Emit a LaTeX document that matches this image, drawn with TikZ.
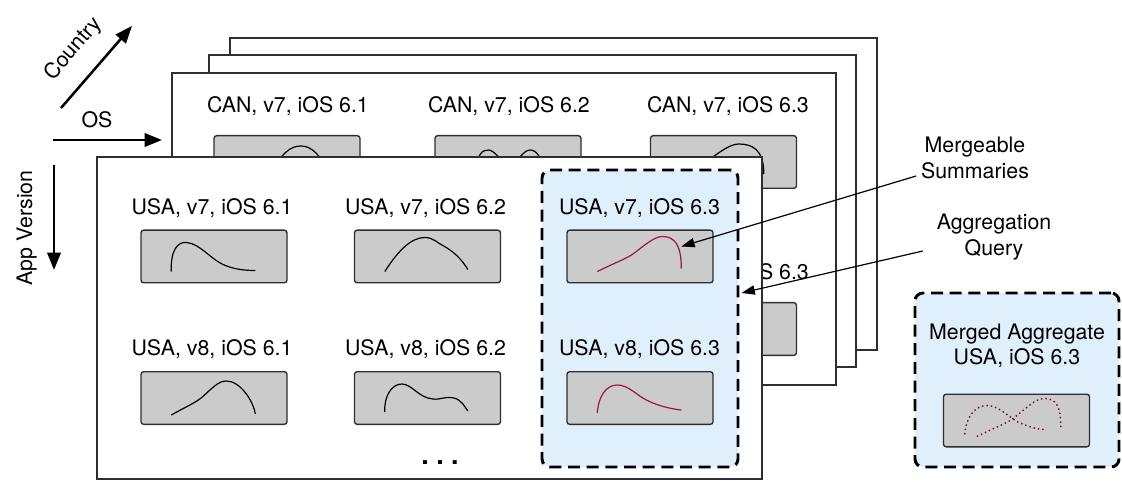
\documentclass[tikz,border=0pt]{standalone}
\usepackage{fontspec}
\setmainfont{TeX Gyre Heros}
\usetikzlibrary{arrows.meta,fit}
\definecolor{boxgray}{HTML}{CBCBCB}
\definecolor{selblue}{HTML}{DFF0FC}
\definecolor{curvered}{HTML}{A3123F}
\definecolor{edge}{HTML}{2E2E2E}
\begin{document}
\begin{tikzpicture}[x=0.75pt,y=-0.75pt,
  font=\fontsize{16}{19}\selectfont,
  layer/.style={draw=edge, line width=0.9pt, fill=white},
  sumbox/.style={draw=edge, line width=1pt, fill=boxgray, rounded corners=2pt,
    minimum width=109.5pt, minimum height=39.5pt, inner sep=0pt},
  lbl/.style={anchor=base, inner sep=0pt},
  curve/.style={line width=0.9pt, draw=black},
  redcurve/.style={line width=0.9pt, draw=curvered},
  dotcurve/.style={line width=1.1pt, draw=curvered!80!black, dash pattern=on 1.1pt off 2.2pt},
  selbox/.style={draw=black, line width=2.2pt, dash pattern=on 9pt off 5pt,
    fill=selblue, rounded corners=6pt, inner sep=0pt},
  axis/.style={line width=1.9pt, -{Triangle[length=13pt,width=10pt]}},
  callout/.style={line width=0.9pt, -{Triangle[length=10pt,width=7pt]}},
  note/.style={align=center, inner sep=2pt}
]
\useasboundingbox (0,0) rectangle (1122,481);

% ---- back layers ----
\draw[layer] (230,38) rectangle (877,350);
\draw[layer] (209,55) rectangle (856,367);
\draw[layer] (172,73) rectangle (836,385);

% ---- CAN layer contents ----
\node[lbl] (lc1) at (288,113) {CAN, v7, iOS 6.1};
\node[lbl] (lc2) at (509,113) {CAN, v7, iOS 6.2};
\node[lbl] (lc3) at (728,113) {CAN, v7, iOS 6.3};
\node[lbl] (lc6) at (728,280) {CAN, v8, iOS 6.3};
\node[sumbox] (c1) at (287,162) {};
\node[sumbox] (c2) at (508,162) {};
\node[sumbox] (c3) at (723.5,162) {};
\node[sumbox] (c6) at (723.5,329) {};
\begin{scope}[shift={(c1.north west)}]
  \draw[curve] (55,45) .. controls (68,16) and (78,11) .. (88,11) .. controls (98,11) and (108,20) .. (120,45);
\end{scope}
\begin{scope}[shift={(c2.north west)}]
  \draw[curve] (40,45) .. controls (42,18) and (48,15) .. (54,15) .. controls (61,15) and (66,28) .. (76,28)
    .. controls (84,28) and (88,15) .. (96,15) .. controls (103,15) and (108,25) .. (112,40);
\end{scope}
\begin{scope}[shift={(c3.north west)}]
  \draw[curve] (24,42) .. controls (38,35) and (51,30) .. (59,25) .. controls (71,16) and (81,9) .. (89,9)
    .. controls (103,9) and (114,15) .. (114,39);
\end{scope}

% ---- front layer ----
\draw[layer] (97,157) rectangle (762,479);
\node[selbox, fit={(542,170) (738,467)}] (sel) {};

\node[lbl] (lu1) at (212,215) {USA, v7, iOS 6.1};
\node[lbl] (lu2) at (425.5,215) {USA, v7, iOS 6.2};
\node[lbl] (lu3) at (639.5,215) {USA, v7, iOS 6.3};
\node[lbl] (lu4) at (212,355) {USA, v8, iOS 6.1};
\node[lbl] (lu5) at (425.5,355) {USA, v8, iOS 6.2};
\node[lbl] (lu6) at (639.5,355) {USA, v8, iOS 6.3};

\node[sumbox] (u1) at (214,256.5) {};
\node[sumbox] (u2) at (427.5,256.5) {};
\node[sumbox] (u3) at (640,256.5) {};
\node[sumbox] (u4) at (214,398) {};
\node[sumbox] (u5) at (427.5,398) {};
\node[sumbox] (u6) at (640,398) {};

\begin{scope}[shift={(u1.north west)}]
  \draw[curve] (31,42) .. controls (30,20) and (38,12) .. (46,13) .. controls (60,14) and (70,30) .. (85,36)
    .. controls (95,40) and (105,41) .. (115,41);
\end{scope}
\begin{scope}[shift={(u2.north west)}]
  \draw[curve] (31,42) .. controls (45,20) and (58,8) .. (71,8) .. controls (80,8) and (84,14) .. (89,16)
    .. controls (100,22) and (108,30) .. (114,40);
\end{scope}
\begin{scope}[shift={(u3.north west)}]
  \draw[redcurve] (31,42) .. controls (45,35) and (58,30) .. (66,25) .. controls (78,16) and (88,7) .. (96,7)
    .. controls (108,7) and (115,15) .. (115,39);
  \coordinate (mtip) at (115,17);
\end{scope}
\begin{scope}[shift={(u4.north west)}]
  \draw[curve] (31,44) .. controls (45,36) and (55,32) .. (62,26) .. controls (72,17) and (78,10) .. (86,10)
    .. controls (100,10) and (113,30) .. (115,43);
\end{scope}
\begin{scope}[shift={(u5.north west)}]
  \draw[curve] (31,41) .. controls (30,25) and (38,13) .. (48,13) .. controls (58,13) and (65,27) .. (79,28)
    .. controls (88,29) and (90,25) .. (100,27) .. controls (108,29) and (111,36) .. (114,40);
\end{scope}
\begin{scope}[shift={(u6.north west)}]
  \draw[redcurve] (31,42) .. controls (32,25) and (40,14) .. (51,14) .. controls (62,14) and (70,24) .. (80,29)
    .. controls (92,35) and (105,38) .. (115,39);
\end{scope}

\node[lbl, font=\fontsize{20}{22}\selectfont\bfseries] (dots) at (440,464) {.\hspace{5.6pt}.\hspace{5.6pt}.};

% ---- merged aggregate ----
\node[selbox, fit={(915,293) (1119,467)}] (merged) {};
\node[note] (mlbl) at (1017,345.5) {Merged Aggregate\\USA, iOS 6.3};
\node[sumbox] (mg) at (1016.5,420.5) {};
\begin{scope}[shift={(mg.north west)}]
  \draw[dotcurve] (34,43) .. controls (48,36) and (61,31) .. (69,26) .. controls (81,17) and (92,5) .. (101,5)
    .. controls (113,5) and (118,12) .. (118,34);
  \draw[dotcurve] (22,41) .. controls (23,24) and (32,12) .. (44,12) .. controls (56,12) and (66,24) .. (76,29)
    .. controls (88,34) and (95,36) .. (103,36);
\end{scope}

% ---- callouts ----
\node[note] (msum) at (975,158) {Mergeable\\Summaries};
\node[note] (aggq) at (994,237) {Aggregation\\Query};
\draw[callout] ([shift={(-2,18)}]msum.west) -- (mtip);
\draw[callout] ([shift={(-11,14)}]aggq.west) -- ([shift={(2,-25.5)}]sel.east);

% ---- axes ----
\coordinate (cy0) at (61,108);
\coordinate (cy1) at (132,26);
\coordinate (os0) at (53,140);
\coordinate (os1) at (162,140);
\coordinate (av0) at (54,165);
\coordinate (av1) at (54,270);
\draw[axis] (cy0) -- (cy1);
\draw[axis] (os0) -- (os1);
\draw[axis] (av0) -- (av1);
\node[inner sep=0pt, rotate=49] (country) at (73.5,49) {Country};
\node[lbl] (oslbl) at (97,128) {OS};
\node[lbl, rotate=90] (applbl) at (32,228) {App Version};
\end{tikzpicture}
\end{document}
